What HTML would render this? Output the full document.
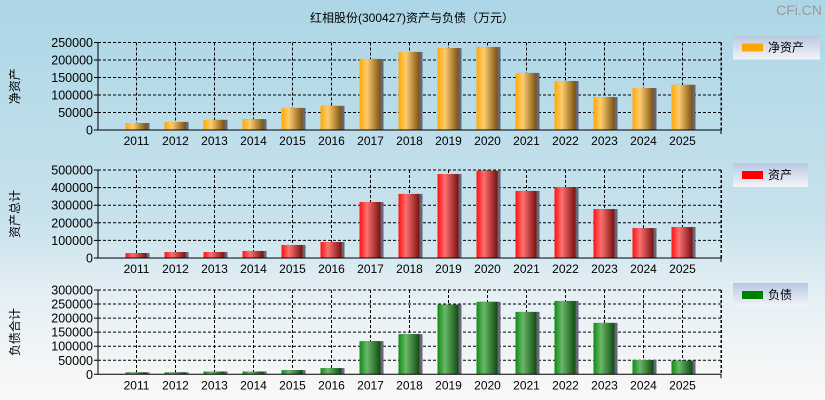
<!DOCTYPE html>
<html><head><meta charset="utf-8"><style>
html,body{margin:0;padding:0;width:825px;height:400px;overflow:hidden}
body{background:linear-gradient(#acd6e6 0%,#c8e2ec 55%,#e6f0f5 75%,#fbf8f7 100%);font-family:"Liberation Sans","Noto Sans CJK SC",sans-serif}
</style></head><body>
<svg id="c" width="825" height="400" xmlns="http://www.w3.org/2000/svg" style="position:absolute;left:0;top:0">
<defs>
<linearGradient id="gO" x1="0" x2="1"><stop offset="0" stop-color="#ffa800"/><stop offset="0.35" stop-color="#ffcc70"/><stop offset="1" stop-color="#7a5210"/></linearGradient>
<linearGradient id="gR" x1="0" x2="1"><stop offset="0" stop-color="#ff1010"/><stop offset="0.35" stop-color="#ff7070"/><stop offset="1" stop-color="#781010"/></linearGradient>
<linearGradient id="gG" x1="0" x2="1"><stop offset="0" stop-color="#108a10"/><stop offset="0.35" stop-color="#6ab86a"/><stop offset="1" stop-color="#104a10"/></linearGradient>
<linearGradient id="gL" x1="0" x2="0" y1="0" y2="1"><stop offset="0" stop-color="#b8c8e2"/><stop offset="1" stop-color="#f4f4f8"/></linearGradient>
</defs>
<text x="412" y="22" text-anchor="middle" font-size="12" fill="#000">红相股份(300427)资产与负债（万元）</text>
<text x="822" y="15" text-anchor="end" font-size="14" fill="#999">CFi.CN</text>
</svg>
<script>
const years=['2011','2012','2013','2014','2015','2016','2017','2018','2019','2020','2021','2022','2023','2024','2025'];
const netAssets=[20000,23000,29000,31000,63000,69000,203000,223000,234000,237000,163000,140000,94000,120000,129000];
const totalAssets=[28000,34000,34000,40000,74000,91000,318000,364000,477000,496000,381000,403000,278000,170000,176000];
const liabilities=[7000,7000,10000,10000,15000,22000,118000,143000,248000,258000,222000,261000,183000,51000,49000];
const ticks1=[0,50000,100000,150000,200000,250000];
const ticks2=[0,100000,200000,300000,400000,500000];
const ticks3=[0,50000,100000,150000,200000,250000,300000];
const svg=document.getElementById('c');const NS='http://www.w3.org/2000/svg';
function mk(t,a,txt){const e=document.createElementNS(NS,t);for(const k in a)e.setAttribute(k,a[k]);if(txt!=null)e.textContent=txt;svg.appendChild(e);return e;}
const L=98,R=721,slot=39;
function xc(i){return L+slot*(i+1)-0.5;}
function panel(top,bot,max,ticks,vals,grad,color,ytitle,leg,legW,key){
  const y=v=>bot-(v/max)*(bot-top);
  for(let i=0;i<years.length+1;i++){const x=xc(i);
    const g=mk('line',{x1:x,x2:x,y1:top,y2:bot,stroke:'#000','stroke-dasharray':'3,2','stroke-width':1});
    }
  ticks.forEach(t=>{const yy=y(t);
    if(t>0){const g=mk('line',{x1:L,x2:R,y1:yy,y2:yy,stroke:'#000','stroke-dasharray':'3,2','stroke-width':1});
      }
    mk('line',{x1:L-4,x2:L,y1:yy,y2:yy,stroke:'#000'});
    const tl=mk('text',{x:L-5,y:yy+4.5,'text-anchor':'end','font-size':12.5,fill:'#000'},String(t));
    });
  vals.forEach((v,i)=>{const x=xc(i);const yy=y(v);
    const s=mk('rect',{x:x-10+2,y:yy,width:21,height:bot-yy,fill:'#667'});
    
    const b=mk('rect',{x:x-11,y:yy,width:21,height:bot-yy,fill:'url(#'+grad+')'});
    
    const xl=mk('text',{x:x,y:bot+15,'text-anchor':'middle','font-size':12,fill:'#000'},years[i]);
    });
  const ax=mk('path',{d:`M${L} ${top}V${bot}H${R}V${bot+4}`,stroke:'#000',fill:'none','stroke-width':1});
  
  mk('path',{d:`M${R} ${top}V${bot}`,stroke:'#000','stroke-dasharray':'3,2',fill:'none'});
  const cy=(top+bot)/2;
  const yt=mk('text',{x:0,y:0,transform:`translate(19,${cy}) rotate(-90)`,'text-anchor':'middle','font-size':12,fill:'#000'},ytitle);
  
  const lt=top-7;
  const lb=mk('rect',{x:733,y:lt,width:legW,height:24,fill:'url(#gL)'});
  
  const sw=mk('rect',{x:742,y:lt+8,width:21,height:8,fill:color});
  
  const tx=mk('text',{x:768,y:lt+16,'font-size':12,fill:'#000'},leg);
  
}
panel(42.5,130,250000,ticks1,netAssets,'gO','#ffa500','净资产','净资产',87,'net-assets');
panel(170,258,500000,ticks2,totalAssets,'gR','#ff0000','资产总计','资产',75,'total-assets');
panel(290,374.3,300000,ticks3,liabilities,'gG','#008000','负债合计','负债',75,'liabilities');
</script>
</body></html>
